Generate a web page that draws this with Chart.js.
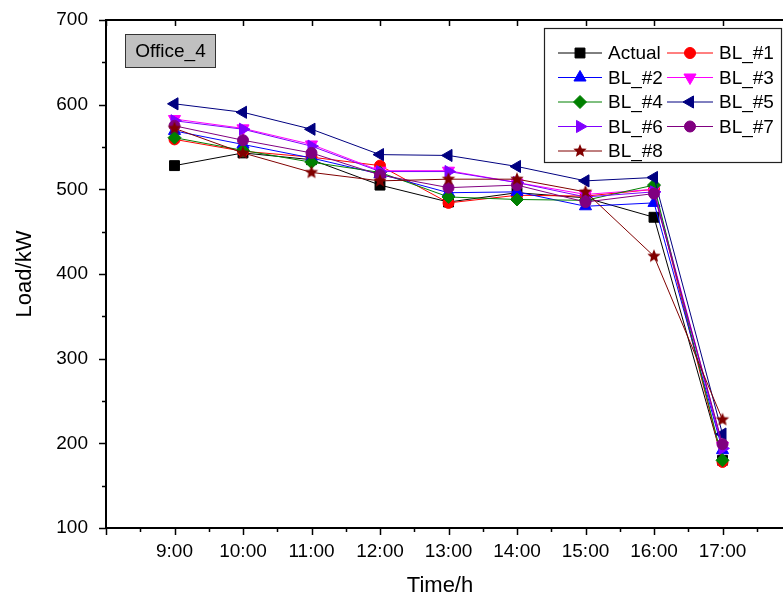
<!DOCTYPE html>
<html>
<head>
<meta charset="utf-8">
<script src="https://cdn.jsdelivr.net/npm/chart.js@4/dist/chart.umd.min.js"></script>
<style>
    html, body { margin: 0; padding: 0; overflow: hidden; background: #fff; }
    #wrap { width: 800px; height: 600px; position: relative; }
</style>
</head>
<body>
<div id="wrap"><canvas id="loadChart"></canvas></div>
<script>
// Data
const hours = [9, 10, 11, 12, 13, 14, 15, 16, 17];
const hourLabels = ['9:00', '10:00', '11:00', '12:00', '13:00', '14:00', '15:00', '16:00', '17:00'];
const yTicks = [100, 200, 300, 400, 500, 600, 700];

const actual = [528, 543, 535, 505, 485, 496, 490, 467, 180];
const bl1 = [559, 545, 538, 528, 484, 493, 492, 500, 178];
const bl2 = [569, 553, 537, 518, 496, 497, 480, 484, 192];
const bl3 = [583, 572, 553, 522, 522, 508, 494, 500, 197];
const bl4 = [561, 546, 532, 520, 491, 488, 487, 505, 180];
const bl5 = [601, 591, 571, 541, 540, 527, 510, 514, 211];
const bl6 = [581, 571, 551, 521, 521, 508, 491, 497, 194];
const bl7 = [575, 558, 543, 517, 502, 505, 485, 495, 199];
const bl8 = [572, 543, 520, 510, 512, 512, 497, 421, 228];

const FONT = '"Liberation Sans", Arial, sans-serif';

// filled five point star for BL_#8
function makeStar(color, r) {
    const c = document.createElement('canvas');
    c.width = c.height = 2 * r + 2;
    const g = c.getContext('2d');
    g.beginPath();
    for (let i = 0; i < 10; i++) {
        const rad = i % 2 === 0 ? r : r * 0.45;
        const a = -Math.PI / 2 + i * Math.PI / 5;
        g.lineTo(r + 1 + rad * Math.cos(a), r + 1 + rad * Math.sin(a));
    }
    g.closePath();
    g.fillStyle = color;
    g.fill();
    return c;
}

const series = [
    { label: 'Actual', data: actual, color: '#000000', style: 'rect', radius: 7, rotation: 0 },
    { label: 'BL_#1', data: bl1, color: '#FF0000', style: 'circle', radius: 5.5, rotation: 0 },
    { label: 'BL_#2', data: bl2, color: '#0000FF', style: 'triangle', radius: 7, rotation: 0 },
    { label: 'BL_#3', data: bl3, color: '#FF00FF', style: 'triangle', radius: 7, rotation: 180 },
    { label: 'BL_#4', data: bl4, color: '#008000', style: 'rectRot', radius: 6.5, rotation: 0 },
    { label: 'BL_#5', data: bl5, color: '#000080', style: 'triangle', radius: 7, rotation: -90 },
    { label: 'BL_#6', data: bl6, color: '#8000FF', style: 'triangle', radius: 7, rotation: 90 },
    { label: 'BL_#7', data: bl7, color: '#800080', style: 'circle', radius: 5.5, rotation: 0 },
    { label: 'BL_#8', data: bl8, color: '#800000', style: makeStar('#800000', 7), radius: 7, rotation: 0 }
];

const datasets = series.map((s, i) => ({
    label: s.label,
    data: s.data.map((v, j) => ({ x: hours[j], y: v })),
    borderColor: s.color,
    backgroundColor: s.color,
    borderWidth: 1,
    pointStyle: s.style,
    pointRadius: s.radius,
    pointHoverRadius: s.radius,
    pointRotation: s.rotation,
    pointBorderWidth: 1,
    tension: 0,
    order: series.length - i
}));

// ticks, frame, inset label, legend box, x title
const decorPlugin = {
    id: 'decor',
    afterDraw(chart) {
        const ctx = chart.ctx;
        const x = chart.scales.x, y = chart.scales.y;
        const a = chart.chartArea;
        ctx.save();
        ctx.strokeStyle = '#000';
        ctx.lineWidth = 2;
        // frame (top and right)
        ctx.beginPath();
        ctx.moveTo(a.left, a.top); ctx.lineTo(a.right, a.top); ctx.lineTo(a.right, a.bottom);
        ctx.stroke();
        ctx.lineWidth = 1.5;
        ctx.beginPath();
        for (let v = x.min; v <= x.max; v += 0.5) {
            const px = Math.round(x.getPixelForValue(v)) + 0.5;
            const major = Number.isInteger(v);
            ctx.moveTo(px, a.bottom); ctx.lineTo(px, a.bottom + (major ? 7 : 4));
            if (major) { ctx.moveTo(px, a.top); ctx.lineTo(px, a.top + 6); }
        }
        for (let v = y.min; v <= y.max; v += 50) {
            const py = Math.round(y.getPixelForValue(v)) + 0.5;
            const major = v % 100 === 0;
            ctx.moveTo(a.left, py); ctx.lineTo(a.left - (major ? 7 : 4), py);
            ctx.moveTo(a.right, py); ctx.lineTo(a.right - (major ? 7 : 4), py);
        }
        ctx.stroke();

        // inset label
        ctx.fillStyle = '#C0C0C0';
        ctx.fillRect(125, 34, 91, 34);
        ctx.strokeStyle = '#333';
        ctx.lineWidth = 1;
        ctx.strokeRect(125.5, 34.5, 90, 33);
        ctx.fillStyle = '#000';
        ctx.font = '19px ' + FONT;
        ctx.textAlign = 'center';
        ctx.textBaseline = 'middle';
        ctx.fillText('Office_4', 170.5, 52);

        // legend
        ctx.fillStyle = '#fff';
        ctx.fillRect(544, 28, 237, 134);
        ctx.strokeStyle = '#222';
        ctx.lineWidth = 1.2;
        ctx.strokeRect(544.5, 28.5, 237, 134);
        ctx.textAlign = 'left';
        ctx.font = '19px ' + FONT;
        const cols = [{ x0: 558, x1: 602, tx: 608 }, { x0: 667, x1: 713, tx: 719 }];
        series.forEach((s, i) => {
            const c = cols[i % 2];
            const ry = 53 + Math.floor(i / 2) * 24.5;
            ctx.strokeStyle = s.color;
            ctx.lineWidth = 1;
            ctx.beginPath();
            ctx.moveTo(c.x0, ry); ctx.lineTo(c.x1, ry);
            ctx.stroke();
            ctx.fillStyle = s.color;
            Chart.helpers.drawPoint(ctx, {
                pointStyle: s.style, radius: s.radius, rotation: s.rotation, borderWidth: 1
            }, (c.x0 + c.x1) / 2, ry);
            ctx.fillStyle = '#000';
            ctx.fillText(s.label, c.tx, ry + 1);
        });

        // x title
        ctx.font = '22px ' + FONT;
        ctx.textAlign = 'center';
        ctx.fillText('Time/h', 440, 586);
        ctx.restore();
    }
};

new Chart(document.getElementById('loadChart'), {
    type: 'line',
    data: { datasets: datasets },
    options: {
        responsive: true,
        maintainAspectRatio: false,
        animation: false,
        events: [],
        layout: { autoPadding: false, padding: { top: 20, right: 9, left: 0, bottom: 0 } },
        plugins: { legend: { display: false }, tooltip: { enabled: false } },
        scales: {
            x: {
                type: 'linear',
                min: 8,
                max: 18,
                afterFit: (s) => { s.height = 72; s.paddingLeft = 0; s.paddingRight = 0; },
                afterBuildTicks: (s) => { s.ticks = hours.map(h => ({ value: h })); },
                grid: { display: false, drawTicks: false },
                border: { display: true, color: '#000', width: 2 },
                ticks: {
                    color: '#000',
                    font: { family: FONT, size: 19 },
                    padding: 12,
                    maxRotation: 0,
                    autoSkip: false,
                    callback: (v) => hourLabels[hours.indexOf(v)] || ''
                }
            },
            y: {
                min: 100,
                max: 700,
                afterFit: (s) => { s.width = 106; s.paddingTop = 0; s.paddingBottom = 0; },
                afterBuildTicks: (s) => { s.ticks = yTicks.map(v => ({ value: v })); },
                grid: { display: false, drawTicks: false },
                border: { display: true, color: '#000', width: 2 },
                title: {
                    display: true,
                    text: 'Load/kW',
                    color: '#000',
                    font: { family: FONT, size: 22 },
                    padding: { top: 12, bottom: 0 }
                },
                ticks: {
                    color: '#000',
                    font: { family: FONT, size: 19 },
                    padding: 18
                }
            }
        }
    },
    plugins: [decorPlugin]
});
</script>
</body>
</html>
